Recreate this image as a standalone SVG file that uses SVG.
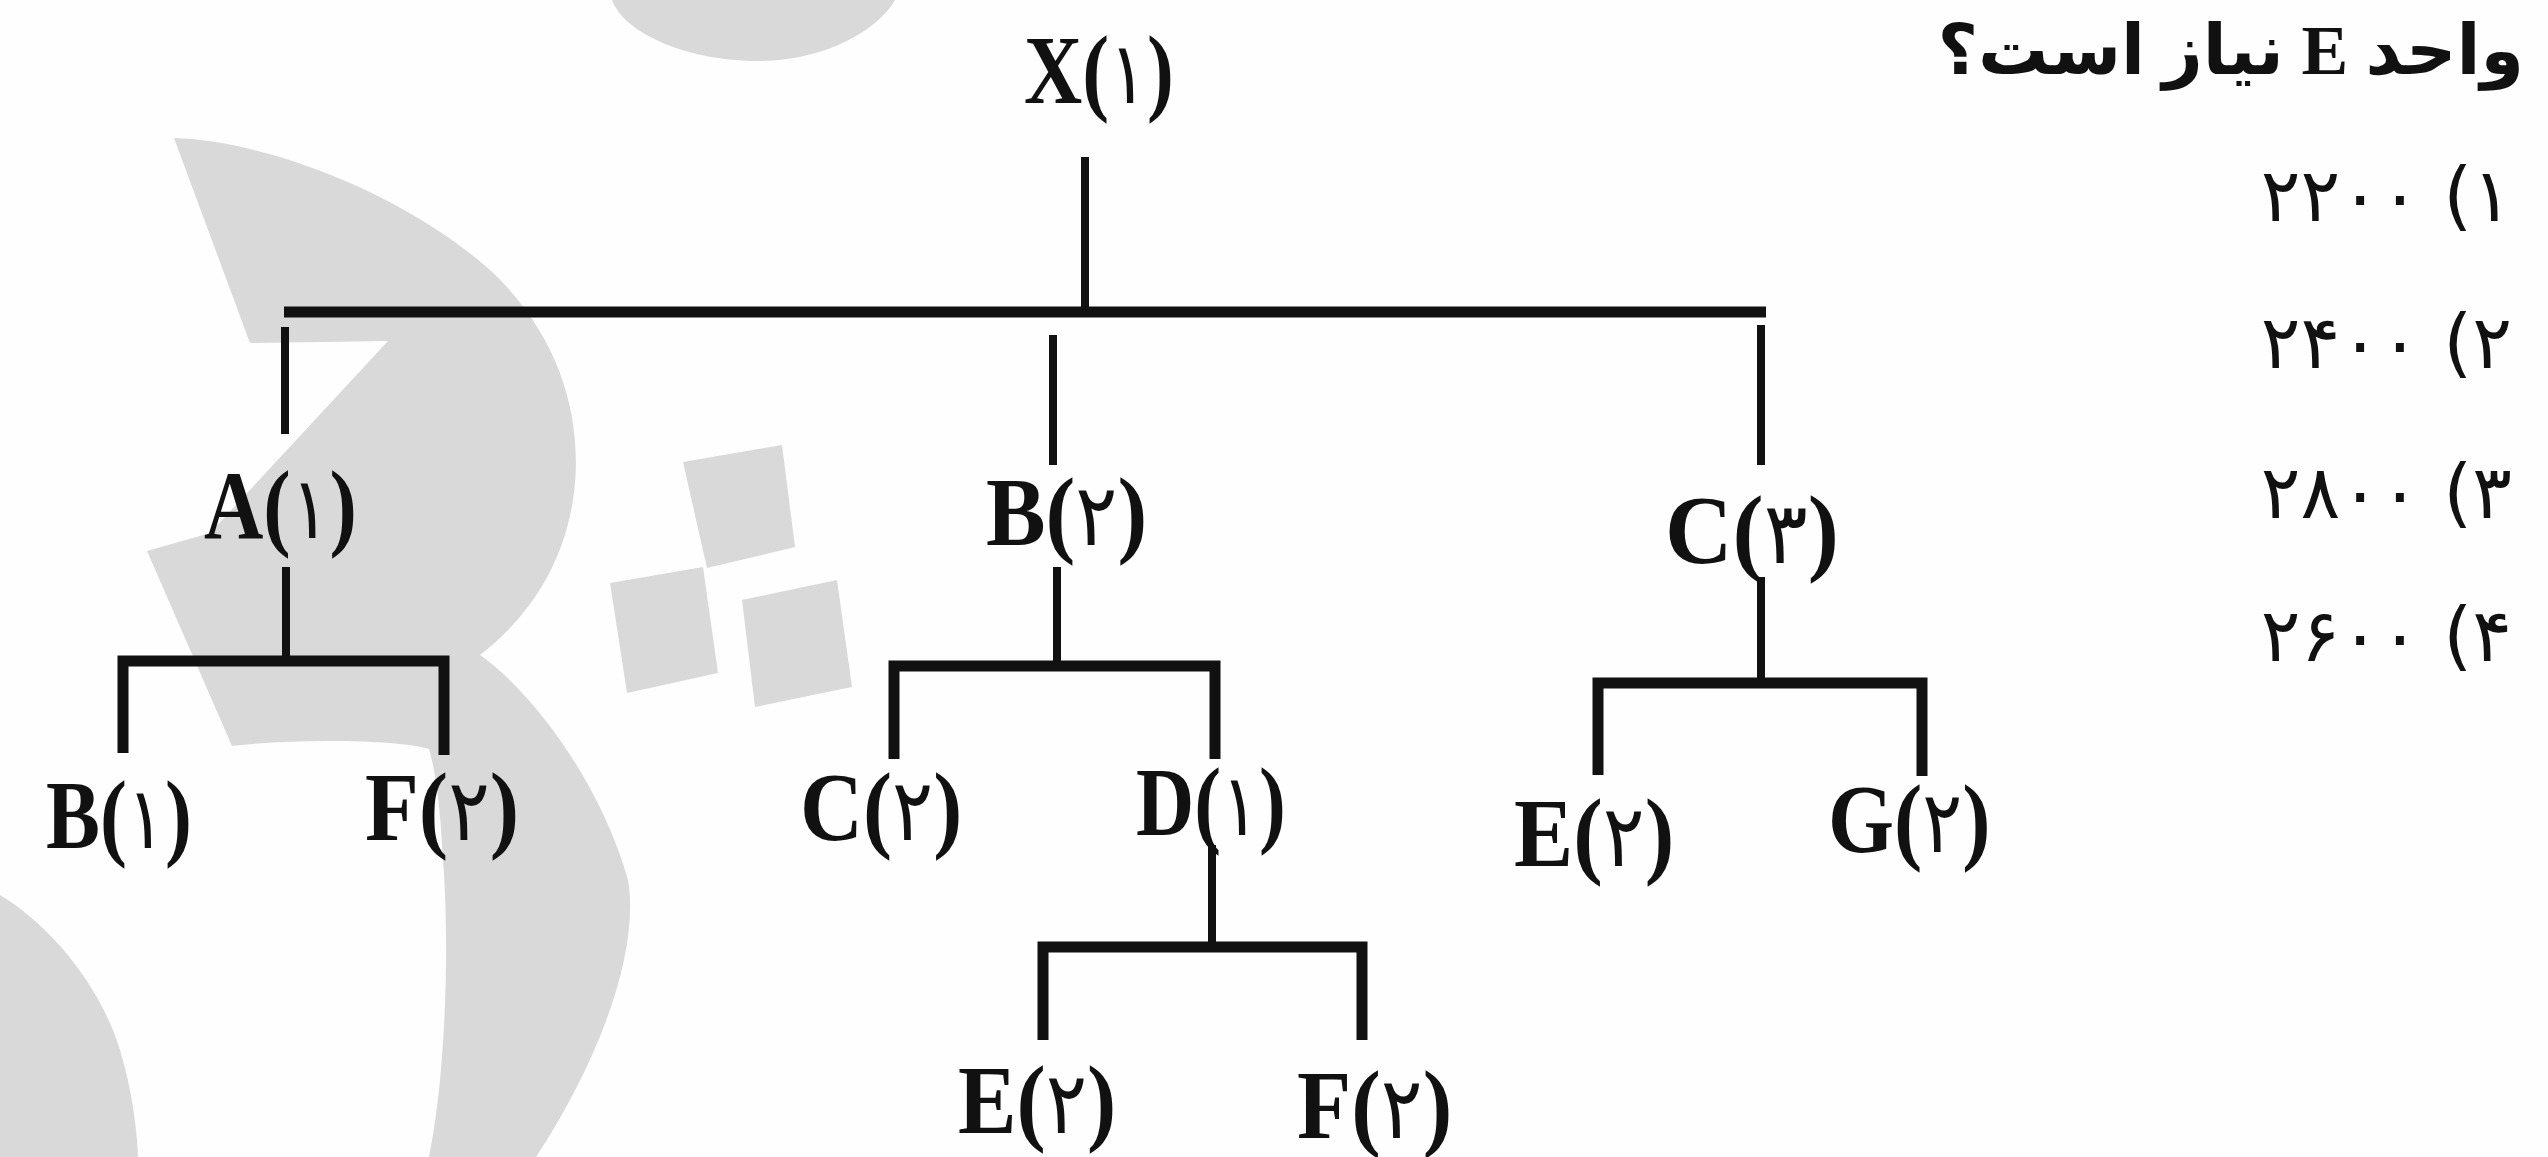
<svg xmlns="http://www.w3.org/2000/svg" width="2548" height="1157" viewBox="0 0 2548 1157">
<style>
.wm{fill:#d9d9d9;stroke:none}
.lbl{font-family:"Liberation Serif","DejaVu Sans",serif;font-weight:bold;font-size:98px;fill:#111}
.d{font-family:"DejaVu Sans",sans-serif;font-weight:normal;font-size:86px}
.ln{stroke:#111;stroke-width:8;fill:none;stroke-linecap:butt}
.bar{stroke:#111;stroke-width:11;fill:none}
.q{font-family:"Liberation Serif","DejaVu Sans",sans-serif;font-weight:bold;font-size:70px;fill:#111}
.opt{font-family:"DejaVu Sans",sans-serif;font-size:74px;letter-spacing:6px;fill:#111}
</style>
<rect width="2548" height="1157" fill="#fefefe"/>
<g id="watermark">
<path class="wm" d="M612,0 C625,35 690,61 758,61 C825,61 878,30 895,0 Z"/>
<path class="wm" d="M174,138 C260,140 400,190 490,270 C560,335 585,420 573,500 C562,570 525,620 480,655 C530,690 600,780 628,880 C640,950 600,1060 536,1157 L429,1157 C445,1080 450,950 443,860 C440,800 435,770 429,749 C400,740 300,738 232,746 L147,551 L210,533 L388,341 L250,343 Z"/>
<path class="wm" d="M0,895 C50,925 100,985 120,1050 C132,1090 137,1130 138,1157 L0,1157 Z"/>
<polygon class="wm" points="683,462 782,445 795,547 707,568"/>
<polygon class="wm" points="610,583 703,567 718,673 627,693"/>
<polygon class="wm" points="742,600 837,580 852,687 755,707"/>
</g>
<g id="connectors">
<line class="ln" x1="1085" y1="157" x2="1085" y2="312"/>
<line class="bar" x1="284" y1="312" x2="1766" y2="312"/>
<line class="ln" x1="285" y1="327" x2="285" y2="434"/>
<line class="ln" x1="1053" y1="335" x2="1053" y2="465"/>
<line class="ln" x1="1761" y1="325" x2="1761" y2="465"/>
<line class="ln" x1="286" y1="567" x2="286" y2="661"/>
<polyline class="bar" points="123,753 123,661 444,661 444,755"/>
<line class="ln" x1="1057" y1="567" x2="1057" y2="666"/>
<polyline class="bar" points="894,759 894,666 1215,666 1215,759"/>
<line class="ln" x1="1212" y1="845" x2="1212" y2="947"/>
<polyline class="bar" points="1043,1040 1043,947 1362,947 1362,1040"/>
<line class="ln" x1="1761" y1="577" x2="1761" y2="683"/>
<polyline class="bar" points="1598,775 1598,683 1922,683 1922,776"/>
</g>
<g id="node-X"><text class="lbl" transform="translate(1024,103) scale(0.823,1)">X(<tspan class="d">۱</tspan>)</text></g>
<g id="node-A"><text class="lbl" transform="translate(204,538) scale(0.839,1)">A(<tspan class="d">۱</tspan>)</text></g>
<g id="node-B2"><text class="lbl" transform="translate(986,545) scale(0.912,1)">B(<tspan class="d">۲</tspan>)</text></g>
<g id="node-C3"><text class="lbl" transform="translate(1665,563) scale(0.954,1)">C(<tspan class="d">۳</tspan>)</text></g>
<g id="node-B1"><text class="lbl" transform="translate(46,848) scale(0.825,1)">B(<tspan class="d">۱</tspan>)</text></g>
<g id="node-F2a"><text class="lbl" transform="translate(365,840) scale(0.9,1)">F(<tspan class="d">۲</tspan>)</text></g>
<g id="node-C2"><text class="lbl" transform="translate(800,840) scale(0.89,1)">C(<tspan class="d">۲</tspan>)</text></g>
<g id="node-D1"><text class="lbl" transform="translate(1136,835) scale(0.823,1)">D(<tspan class="d">۱</tspan>)</text></g>
<g id="node-E2a"><text class="lbl" transform="translate(958,1133) scale(0.895,1)">E(<tspan class="d">۲</tspan>)</text></g>
<g id="node-F2b"><text class="lbl" transform="translate(1297,1138) scale(0.906,1)">F(<tspan class="d">۲</tspan>)</text></g>
<g id="node-E2b"><text class="lbl" transform="translate(1514,866) scale(0.906,1)">E(<tspan class="d">۲</tspan>)</text></g>
<g id="node-G2"><text class="lbl" transform="translate(1828,852) scale(0.866,1)">G(<tspan class="d">۲</tspan>)</text></g>
<g id="question">
<text class="q" x="2524" y="74" direction="rtl" text-anchor="start">واحد E نیاز است؟</text>
<text class="opt" x="2512" y="221" direction="rtl" text-anchor="start">۱) ۲۲۰۰</text>
<text class="opt" x="2512" y="368" direction="rtl" text-anchor="start">۲) ۲۴۰۰</text>
<text class="opt" x="2512" y="518" direction="rtl" text-anchor="start">۳) ۲۸۰۰</text>
<text class="opt" x="2512" y="661" direction="rtl" text-anchor="start">۴) ۲۶۰۰</text>
</g>
</svg>
